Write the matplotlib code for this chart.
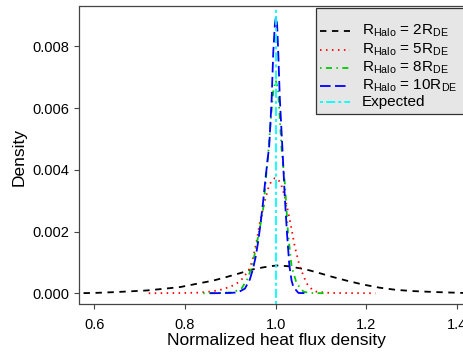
import matplotlib
matplotlib.use("Agg")
import matplotlib.pyplot as plt
from matplotlib.lines import Line2D
from matplotlib.patches import Rectangle

plt.rcParams['font.family'] = ['Liberation Sans', 'DejaVu Sans']
plt.rcParams['mathtext.fontset'] = 'custom'
plt.rcParams['mathtext.rm'] = 'Liberation Sans'
plt.rcParams['mathtext.it'] = 'Liberation Sans:italic'
plt.rcParams['lines.scale_dashes'] = False

# ---- data ----
x_2 = [0.55, 0.60, 0.65, 0.715, 0.75, 0.789, 0.82, 0.862, 0.89, 0.921, 0.945, 0.965, 0.985,
       1.002, 1.025, 1.053, 1.075, 1.097, 1.125, 1.156, 1.19, 1.229, 1.265, 1.303, 1.35, 1.413, 1.45]
y_2 = [0.00000, 0.00001, 0.00004, 0.00009, 0.00014, 0.00020, 0.00029, 0.00041, 0.00052, 0.00065,
       0.00076, 0.00082, 0.00087, 0.00090, 0.00088, 0.00081, 0.00074, 0.00065, 0.00053, 0.00041,
       0.00029, 0.00018, 0.00011, 0.00007, 0.00004, 0.00001, 0.00000]

x_5 = [0.72, 0.80, 0.83, 0.86, 0.88, 0.90, 0.915, 0.928, 0.943, 0.950, 0.958, 0.965, 0.976, 0.985,
       0.992, 0.998, 1.005, 1.012, 1.020, 1.031, 1.042, 1.053, 1.068, 1.080, 1.090, 1.12, 1.22]
y_5 = [0.0, 0.00001, 0.00002, 0.00006, 0.00012, 0.00021, 0.00033, 0.00049, 0.00081, 0.00115,
       0.00170, 0.00230, 0.00300, 0.00348, 0.00367, 0.00373, 0.00370, 0.00352, 0.00313, 0.00238,
       0.00151, 0.00086, 0.00032, 0.00012, 0.00005, 0.00001, 0.0]

x_8 = [0.84, 0.88, 0.906, 0.925, 0.939, 0.950, 0.958, 0.966, 0.973, 0.980, 0.984, 0.990, 0.995,
       1.000, 1.005, 1.010, 1.013, 1.020, 1.027, 1.035, 1.046, 1.061, 1.075, 1.108]
y_8 = [0.0, 0.00001, 0.00003, 0.00016, 0.00050, 0.00100, 0.00160, 0.00220, 0.00281, 0.00400,
       0.00465, 0.00580, 0.00660, 0.00690, 0.00660, 0.00540, 0.00465, 0.00357, 0.00195, 0.00086,
       0.00032, 0.00005, 0.00001, 0.0]

x_10 = [0.855, 0.90, 0.917, 0.932, 0.943, 0.950, 0.956, 0.961, 0.966, 0.972, 0.978, 0.9857, 0.991,
        0.9945, 0.998, 1.0005, 1.003, 1.0055, 1.009, 1.015, 1.020, 1.025, 1.030, 1.035, 1.039,
        1.050, 1.069]
y_10 = [0.0, 0.00001, 0.00003, 0.00015, 0.00045, 0.00080, 0.00120, 0.00165, 0.00220, 0.00295,
        0.00380, 0.00480, 0.00630, 0.00780, 0.00870, 0.00896, 0.00870, 0.00780, 0.00630, 0.00460,
        0.00310, 0.00190, 0.00090, 0.00040, 0.00020, 0.00001, 0.0]

expected = 1.0

labels = ['R$_{\\mathregular{Halo}}$ = 2R$_{\\mathregular{DE}}$',
          'R$_{\\mathregular{Halo}}$ = 5R$_{\\mathregular{DE}}$',
          'R$_{\\mathregular{Halo}}$ = 8R$_{\\mathregular{DE}}$',
          'R$_{\\mathregular{Halo}}$ = 10R$_{\\mathregular{DE}}$',
          'Expected']

xticks = [0.6, 0.8, 1.0, 1.2, 1.4]
yticks = [0.000, 0.002, 0.004, 0.006, 0.008]

# ---- styles ----
W, H = 464, 354
lw = 1.3
styles = [
    dict(color='black', dashes=(4.6, 4.0)),
    dict(color='red', dashes=(1.1, 3.2)),
    dict(color='#00cc00', dashes=(1.1, 3.2, 4.3, 3.2)),
    dict(color='blue', dashes=(7.6, 3.2)),
    dict(color='cyan', dashes=(2.2, 2.2, 6.5, 2.2)),
]

fig = plt.figure(figsize=(W / 100, H / 100), dpi=100)
ax = fig.add_axes([79.5 / W, 1 - 304.3 / H, (472 - 79.5) / W, (304.3 - 5.7) / H])

for (xs, ys), st in zip([(x_2, y_2), (x_5, y_5), (x_8, y_8), (x_10, y_10)], styles[:4]):
    ax.plot(xs, ys, lw=lw, **st)
ax.axvline(expected, lw=lw, **styles[4])

ax.set_xlim(0.5674, 1.4326)
ax.set_ylim(-0.000358, 0.00932)
ax.set_xticks(xticks)
ax.set_xticklabels(['0.6', '0.8', '1.0', '1.2', '1.4'])
ax.set_yticks(yticks)
ax.set_yticklabels(['0.000', '0.002', '0.004', '0.006', '0.008'])
ax.tick_params(axis='both', direction='out', length=3.6, width=0.8, color='#444444',
               labelsize=10.5)
ax.tick_params(axis='x', pad=6)
ax.tick_params(axis='y', pad=4)
for s in ax.spines.values():
    s.set_color('#444444')
    s.set_linewidth(0.9)

fig.text(19 / W, 1 - 157 / H, 'Density', rotation=90, ha='center', va='center', fontsize=12.5)
fig.text(276 / W, 1 - 340 / H, 'Normalized heat flux density', ha='center', va='center',
         fontsize=12.5)

# ---- legend box ----
fig.patches.append(Rectangle((316 / W, 1 - 114 / H), (480 - 316) / W, (114 - 8.3) / H,
                             transform=fig.transFigure, facecolor='#e6e6e6',
                             edgecolor='#333333', linewidth=0.9, zorder=5))
row_y = [31, 49.5, 67.5, 85.5, 102]
for i, (lab, st) in enumerate(zip(labels, styles)):
    yy = 1 - row_y[i] / H
    fig.lines.append(Line2D([320 / W, 350 / W], [yy, yy], transform=fig.transFigure,
                            lw=lw, zorder=6, **st))
    fig.text(362 / W, yy, lab, ha='left', va='center', fontsize=11, zorder=7)

fig.savefig('out.png', dpi=100)
